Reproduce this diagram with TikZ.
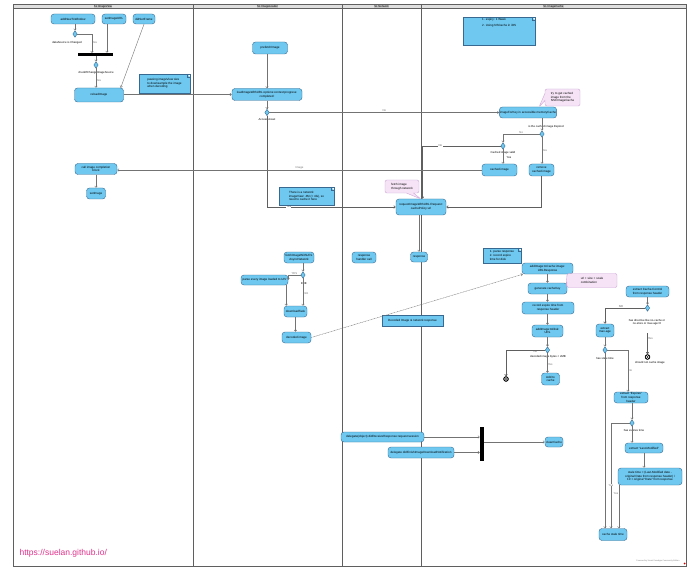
\documentclass[tikz,border=0pt]{standalone}
\usepackage{fontspec}
\setmainfont{Liberation Sans}
\usetikzlibrary{positioning, calc, shapes.geometric, shapes.callouts, arrows.meta}
\definecolor{actfill}{RGB}{110,200,240}
\definecolor{actline}{RGB}{55,105,145}
\definecolor{calloutfill}{RGB}{246,228,246}
\definecolor{calloutline}{RGB}{205,165,215}
\definecolor{laneline}{RGB}{95,95,95}
\definecolor{flowline}{RGB}{115,115,115}
\definecolor{urlpink}{RGB}{225,50,140}
\newcommand{\actfont}{\fontsize{3}{3.6}\selectfont}
\newcommand{\guardfont}{\fontsize{2.8}{3.3}\selectfont}

\begin{document}
\begin{tikzpicture}[x=1pt, y=-1pt,
        action/.style={rectangle, rounded corners=3pt, draw=actline, fill=actfill, line width=0.4pt, align=center, font=\actfont, inner sep=0.5pt},
        objbox/.style={rectangle, draw=actline, fill=actfill, line width=0.4pt, align=center, font=\actfont, inner sep=0.5pt},
        note/.style={rectangle, draw=actline, fill=actfill, line width=0.4pt, align=left, font=\actfont, inner sep=1pt,
            path picture={\fill[white] ([xshift=-3pt]path picture bounding box.north east) -- (path picture bounding box.north east) -- ([yshift=-3pt]path picture bounding box.north east) -- cycle;
                \draw[actline, line width=0.3pt] ([xshift=-3pt]path picture bounding box.north east) -- ([xshift=-3pt, yshift=-3pt]path picture bounding box.north east) -- ([yshift=-3pt]path picture bounding box.north east);}},
        callout/.style={rectangle callout, rounded corners=2pt, draw=calloutline, fill=calloutfill, line width=0.4pt, align=left, font=\actfont, inner sep=0.8pt},
        decision/.style={diamond, draw=actline, fill=actfill, line width=0.4pt, inner sep=0pt, minimum width=4.5pt, minimum height=6.5pt},
        bar/.style={rectangle, fill=black, inner sep=0pt},
        final/.style={circle, draw=black, fill=black, line width=0.4pt, inner sep=0pt, minimum size=5pt,
            path picture={\draw[white, line width=0.4pt] (path picture bounding box.center) circle (1.5pt);}},
        lanetitle/.style={fill=gray!45, font=\guardfont, inner sep=0.4pt},
        guard/.style={font=\guardfont, inner sep=0.3pt},
        arrow/.style={-{Straight Barb[length=1.6pt, width=2.6pt]}, flowline, line width=0.4pt},
        link/.style={arrow, dash pattern=on 1pt off 0.6pt}
    ]
        \useasboundingbox (0,0) rectangle (698,577);
        \fill[white] (0,0) rectangle (698,577);

        % Swimlanes
        \fill[gray!25] (13,4) rectangle (686,8.5);
        \draw[laneline, line width=0.8pt] (13,4) rectangle (686,566);
        \draw[laneline, line width=0.5pt] (13,8.5) -- (686,8.5);
        \foreach \xlane in {193, 342, 421}
            \draw[laneline, line width=0.8pt] (\xlane,4) -- (\xlane,566);
        \node[lanetitle] (LANE_VIEW) at (103,6.3) {SL ImageView};
        \node[lanetitle] (LANE_LOADER) at (267.5,6.3) {SL ImageLoader};
        \node[lanetitle] (LANE_NET) at (381.5,6.3) {SL Network};
        \node[lanetitle] (LANE_CACHE) at (553.5,6.3) {SL ImageCache};

        % SL ImageView
        \node[action, minimum width=44pt, minimum height=10pt] (ADD_WINDOW) at (73,19) {addNewToWindow};
        \node[action, minimum width=24pt, minimum height=10pt] (SET_URL) at (114,19) {setImageURL};
        \node[action, minimum width=22pt, minimum height=10pt] (SET_FRAME) at (144,19) {didSetFrame};
        \node[decision] (D_SOURCE) at (75,34) {};
        \node[guard] at (67,43) {dataSource is Changed};
        \node[bar, minimum width=35pt, minimum height=3pt] (FORK) at (95.5,54.5) {};
        \node[decision] (D_CHANGE) at (96,65) {};
        \node[guard] at (96,72.5) {checkIfChangeImageSource};
        \node[action, minimum width=49pt, minimum height=14pt] (RELOAD) at (99,95) {reloadImage};
        \node[note, minimum width=51pt, minimum height=19pt] (NOTE_SIZE) at (164.5,83.5) {passing imageView size\\to downsample the image\\when decoding};
        \node[action, minimum width=42pt, minimum height=11pt] (CALL_BLOCK) at (96,169) {call image completion\\block};
        \node[action, minimum width=19pt, minimum height=11pt] (SET_IMAGE) at (96,193.5) {setImage};

        \draw[arrow] (ADD_WINDOW.south -| D_SOURCE.north) -- (D_SOURCE.north);
        \draw[arrow] (D_SOURCE.east) -- (92,34) -- node[guard, right, pos=0.45] {Yes} (92,53);
        \draw[arrow] ([xshift=-7pt]SET_URL.south) -- ([xshift=-7pt]SET_URL.south |- FORK.north);
        \draw[arrow] (FORK.south -| D_CHANGE.north) -- (D_CHANGE.north);
        \draw[arrow] (D_CHANGE.south) -- node[guard, right, pos=0.6] {Yes} (D_CHANGE.south |- RELOAD.north);
        \draw[arrow] (SET_FRAME.south) -- ([xshift=-3pt]RELOAD.north east);
        \draw[arrow] (CALL_BLOCK.south) -- (SET_IMAGE.north);

        % SL ImageLoader
        \node[action, minimum width=35pt, minimum height=12pt] (PREFETCH) at (270,48) {prefetchImage};
        \node[action, minimum width=70pt, minimum height=12pt] (LOAD_URL) at (267,94.5) {loadImageWithURL:options:context:progress:\\completed:};
        \node[decision] (D_ACCESS) at (267,112.5) {};
        \node[guard] at (267,120) {Access Asset};
        \node[note, minimum width=55pt, minimum height=18pt] (NOTE_NET) at (306.5,196) {There is a network\\imageView: 4M (> 4G), so\\need to cache it here};
        \node[action, minimum width=30pt, minimum height=11pt] (FETCH_URL) at (299,257.5) {fetchImageWithURL\\AsyncNetwork};
        \node[decision] (D_FETCH) at (303,275) {};
        \node[action, minimum width=47pt, minimum height=10pt] (PARSE) at (264.5,280) {parse every image loaded to UIV};
        \node[action, minimum width=23pt, minimum height=11pt] (DOWNLOAD) at (295.5,311.5) {downloadTask};
        \node[action, minimum width=29pt, minimum height=11pt] (DECODED) at (296.5,337.5) {decoded image};

        \draw[arrow] (PREFETCH.south -| LOAD_URL.north) -- (LOAD_URL.north);
        \draw[arrow] (RELOAD.east |- LOAD_URL.west) -- (LOAD_URL.west);
        \draw[arrow] (LOAD_URL.south) -- (D_ACCESS.north);
        \draw[arrow] ([xshift=4pt]FETCH_URL.south) -- (D_FETCH.north);
        \draw[arrow] (D_FETCH.west) -- node[guard, above] {YES} (PARSE.east |- D_FETCH.west) -- (PARSE.east);
        \node[guard] at (304,283.5) {EXE};
        \draw[arrow] (D_FETCH.south) -- node[guard, right, pos=0.55] {N/A} (D_FETCH.south |- DOWNLOAD.north);
        \draw[arrow] ([xshift=-2pt]PARSE.south east) -- ([xshift=-2pt]PARSE.south east |- DOWNLOAD.north);
        \draw[arrow] (DOWNLOAD.south) -- (DOWNLOAD.south |- DECODED.north);

        % SL Network
        \node[action, minimum width=50pt, minimum height=16pt] (ACCESS_CACHE) at (421,207) {requestImageWithURL:Request:\\cachePolicy:url};
        \node[callout, minimum width=34pt, minimum height=13pt, callout absolute pointer={(421,199)}] (CALLOUT_NET) at (402,186.5) {fetch image\\through network};
        \node[action, minimum width=24pt, minimum height=11pt] (RESP_HANDLE) at (364,257.5) {response\\handler call};
        \node[action, minimum width=17pt, minimum height=10pt] (RESPONSE) at (419,257) {response};
        \node[objbox, minimum width=61pt, minimum height=11pt] (OBJ_DECODED) at (412.5,320.5) {Decoded Image \& network response};
        \node[action, minimum width=83pt, minimum height=10pt] (DELEG_RESP) at (382.5,437) {delegate(object) didReceiveResponse:request:session};
        \node[action, minimum width=66pt, minimum height=11pt] (DELEG_FINISH) at (421,452.5) {delegate didFinishImageDownloadNotification};
        \node[bar, minimum width=4pt, minimum height=34pt] (JOIN) at (482,444) {};
        \node[action, minimum width=18pt, minimum height=10pt] (CLEAN) at (554,442) {cleanCache};

        \draw[arrow, line width=0.6pt, laneline] (D_ACCESS.south) -- (267,207) -- node[guard, fill=white, pos=0.17] {Yes} (ACCESS_CACHE.west);
        \draw[arrow] (ACCESS_CACHE.south -| RESPONSE.north) -- (RESPONSE.north);
        \draw[arrow] (DELEG_RESP.east) -- (DELEG_RESP.east -| JOIN.west);
        \draw[arrow] (DELEG_FINISH.east) -- (DELEG_FINISH.east -| JOIN.west);
        \draw[arrow] (JOIN.east |- CLEAN.west) -- (CLEAN.west);

        % SL ImageCache
        \node[note, anchor=north west, minimum width=72pt, minimum height=27pt, align=left, text depth=18pt] (NOTE_EXPIRY) at (463,17) {1. expiry: 1 Week\\[2.5pt]2. Using NSCache in iOS};
        \node[action, minimum width=56pt, minimum height=11pt] (IMAGE_FOR) at (528,112.5) {imageForKey in accessible memoryCache};
        \node[callout, minimum width=35pt, minimum height=17pt, callout absolute pointer={(539,107)}] (CALLOUT_MEM) at (562.5,97.5) {try to get cached\\image from the\\NSCImageCache};
        \node[decision] (D_EXPIRED) at (542,134) {};
        \node[guard] at (546,126.5) {is the cached image Expired};
        \node[decision] (D_VALID) at (503,146) {};
        \node[guard] at (503,153) {Cached image valid};
        \node[guard] at (509,157.5) {Yes};
        \node[action, minimum width=35pt, minimum height=12pt] (CACHED_IMG) at (499.5,170) {cached image};
        \node[action, minimum width=25pt, minimum height=12pt] (REMOVE_IMG) at (541.5,170) {remove\\cached image};

        \draw[arrow] (IMAGE_FOR.south -| D_EXPIRED.north) -- (D_EXPIRED.north);
        \draw[arrow] (D_EXPIRED.west) -- node[guard, above] {No} (D_VALID.north |- D_EXPIRED.west) -- (D_VALID.north);
        \draw[arrow] (D_EXPIRED.south) -- node[guard, right, pos=0.5] {Yes} (D_EXPIRED.south |- REMOVE_IMG.north);
        \draw[arrow] (D_VALID.south) -- (D_VALID.south |- CACHED_IMG.north);
        \draw[arrow, line width=0.6pt, laneline] (D_VALID.west) -- node[guard, fill=white, pos=0.77] {No} (422.5,146) -- (422.5,146 |- ACCESS_CACHE.north);
        \draw[arrow, line width=0.6pt, laneline] (REMOVE_IMG.south) -- (REMOVE_IMG.south |- ACCESS_CACHE.east) -- (ACCESS_CACHE.east);
        \draw[arrow] (D_ACCESS.east) -- node[guard, above, pos=0.5] {No} (IMAGE_FOR.west);
        \draw[arrow] (CACHED_IMG.west) -- node[guard, above, pos=0.5] {Image} (CALL_BLOCK.east |- CACHED_IMG.west);

        \node[note, minimum width=38pt, minimum height=15pt] (NOTE_PARSE) at (502,255.5) {1. parse response\\2. record expire\\time for disk};
        \node[action, minimum width=51pt, minimum height=11pt] (ADD_CACHE) at (547.5,268.5) {addImage:toCache:image:\\URLResponse};
        \node[action, minimum width=39pt, minimum height=11pt] (GEN_KEY) at (547.5,288.5) {generate cacheKey};
        \node[callout, minimum width=50pt, minimum height=14pt, callout absolute pointer={(566,287)}] (CALLOUT_KEY) at (592,280.5) {url + size + scale\\combination};
        \node[action, minimum width=52pt, minimum height=12pt] (RECORD) at (548,308) {record expire time from\\response header};
        \node[action, minimum width=31pt, minimum height=12pt] (ADD_DISK) at (547.5,331) {addImage:toDisk:\\URL};
        \node[decision] (D_SIZE) at (547.5,350) {};
        \node[guard] at (548,357) {decoded image bytes < 2MB};
        \node[final] (END_SIZE) at (506,379) {};
        \node[action, minimum width=18pt, minimum height=12pt] (ADD_TO_CACHE) at (550.5,379) {Add to\\cache};

        \draw[link] (DECODED.east) -- ([xshift=1pt]ADD_CACHE.south west);
        \draw[arrow] (ADD_CACHE.south) -- (GEN_KEY.north);
        \draw[arrow] (GEN_KEY.south) -- (GEN_KEY.south |- RECORD.north);
        \draw[arrow] (RECORD.south -| ADD_DISK.north) -- (ADD_DISK.north);
        \draw[arrow] (ADD_DISK.south) -- (D_SIZE.north);
        \draw[arrow, line width=0.6pt, laneline] (D_SIZE.west) -- node[guard, below, pos=0.25] {No} (END_SIZE.north |- D_SIZE.west) -- (END_SIZE.north);
        \draw[arrow] (D_SIZE.south) -- node[guard, right, pos=0.55] {Yes} (D_SIZE.south |- ADD_TO_CACHE.north);

        % HTTP header expiry
        \node[action, minimum width=43pt, minimum height=11pt] (EXTRACT_CC) at (647.5,291.5) {extract Cache-Control\\from response header};
        \node[decision] (D_DIRECTIVE) at (647.5,308) {};
        \node[guard, align=center] at (647,322) {has directive like no-cache or\\no-store or max-age=0};
        \node[final] (END_CACHE) at (647.5,357) {};
        \node[guard] at (650,362.5) {should not cache image};
        \node[action, minimum width=18pt, minimum height=13pt] (MAX_AGE) at (605,330.5) {extract\\max-age};
        \node[decision] (D_STALE) at (605,350) {};
        \node[guard] at (605,358.5) {has stale time};
        \node[action, minimum width=34pt, minimum height=11pt] (EXPIRES) at (631,397.5) {extract ``Expires''\\from response\\header};
        \node[decision] (D_EXPIRES) at (632,423) {};
        \node[guard] at (634,431) {has expires time};
        \node[action, minimum width=38pt, minimum height=10pt] (LAST_MOD) at (644,448) {extract ``Last-Modified''};
        \node[action, minimum width=64pt, minimum height=17pt] (STALE_CALC) at (650,476.5) {stale time = (Last-Modified date -\\original Date from response header) /\\10 + original ``Date'' from response};
        \node[action, minimum width=28pt, minimum height=12pt] (CACHE_STALE) at (613,534.5) {cache stale time};

        \draw[arrow] (EXTRACT_CC.south) -- (D_DIRECTIVE.north);
        \draw[arrow, line width=0.6pt, laneline] (D_DIRECTIVE.west) -- node[guard, above, pos=0.6] {NO} (MAX_AGE.north |- D_DIRECTIVE.west) -- (MAX_AGE.north);
        \draw[arrow, line width=0.6pt, laneline] ([yshift=-22pt]D_DIRECTIVE.south) -- node[guard, right, pos=0.25] {Yes} (END_CACHE.north);
        \draw[arrow] (MAX_AGE.south) -- (D_STALE.north);
        \draw[arrow] (D_STALE.east) -- (628,350) -- node[guard, right, pos=0.5] {No} (628,350 |- EXPIRES.north);
        \draw[arrow] (D_STALE.south) -- (D_STALE.south |- CACHE_STALE.north);
        \draw[arrow] (EXPIRES.south -| D_EXPIRES.north) -- (D_EXPIRES.north);
        \draw[arrow] (D_EXPIRES.west) -- (611,423) -- node[guard, pos=0.59, fill=white] {Yes} (611,423 |- CACHE_STALE.north);
        \draw[arrow] (D_EXPIRES.south) -- (D_EXPIRES.south |- LAST_MOD.north);
        \draw[arrow] (LAST_MOD.south) -- (LAST_MOD.south |- STALE_CALC.north);
        \draw[arrow] ([xshift=1pt]STALE_CALC.south west) -- node[guard, pos=0.2, left] {Yes} ([xshift=1pt]STALE_CALC.south west |- CACHE_STALE.north);

        % Footer
        \node[anchor=west, font=\fontsize{8.5}{10}\selectfont, text=urlpink] (URL) at (16,553) {https://suelan.github.io/};
        \node[anchor=south east, font=\fontsize{2}{2.4}\selectfont, text=gray] (POWERED) at (683,565) {Powered by Visual Paradigm Community Edition};
        \fill[red!80!black] (684.5,563.5) circle (1pt);
    \end{tikzpicture}
\end{document}
